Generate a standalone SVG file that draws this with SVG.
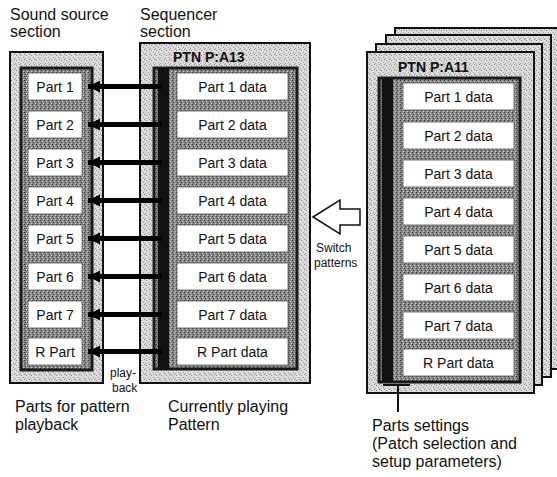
<svg xmlns="http://www.w3.org/2000/svg" width="557" height="477" viewBox="0 0 557 477">
<defs>
<pattern id="lt" width="5" height="5" patternUnits="userSpaceOnUse">
<rect width="5" height="5" fill="#dcdcdc"/>
<rect x="1" y="0" width="1" height="1" fill="#8a8a8a"/>
<rect x="3" y="2" width="1" height="1" fill="#9a9a9a"/>
<rect x="0" y="3" width="1" height="1" fill="#a5a5a5"/>
<rect x="4" y="4" width="1" height="1" fill="#8a8a8a"/>
</pattern>
<pattern id="dk" width="4" height="4" patternUnits="userSpaceOnUse">
<rect width="4" height="4" fill="#888"/>
<rect x="0" y="0" width="1" height="1" fill="#333"/>
<rect x="2" y="1" width="1" height="1" fill="#d0d0d0"/>
<rect x="1" y="2" width="1" height="1" fill="#3a3a3a"/>
<rect x="3" y="3" width="1" height="1" fill="#c8c8c8"/>
</pattern>
<marker id="ah" markerUnits="userSpaceOnUse" markerWidth="14" markerHeight="14" refX="12" refY="7" orient="auto">
<path d="M0,1 L12,7 L0,13 Z" fill="#000"/>
</marker>
</defs>
<style>
.outer{fill:url(#lt);stroke:#111;stroke-width:2}
.inner{fill:url(#dk);stroke:#1a1a1a;stroke-width:3}
.box{fill:#fff;stroke:#555;stroke-width:0.8}
.bar{fill:#111}
.t{font-family:"Liberation Sans",Arial,sans-serif;fill:#111}
.lbl{font-size:16px}
.bx{font-size:14px;text-anchor:middle}
.ptn{font-size:14px;font-weight:bold}
.sm{font-size:12px}
.conn{stroke:#000;stroke-width:5;fill:none}
</style>

<!-- headings -->
<text class="t lbl" x="10" y="20">Sound source</text>
<text class="t lbl" x="10" y="37">section</text>
<text class="t lbl" x="140" y="20">Sequencer</text>
<text class="t lbl" x="140" y="37">section</text>

<!-- Sound source section -->
<g id="sound-source">
<rect class="outer" x="10" y="52" width="93" height="331"/>
<rect class="inner" x="21" y="68" width="71" height="302"/>
<g id="part1"><rect class="box" x="28" y="73" width="54" height="27"/><text class="t bx" x="55" y="91.5">Part 1</text></g>
<g id="part2"><rect class="box" x="28" y="111" width="54" height="27"/><text class="t bx" x="55" y="129.5">Part 2</text></g>
<g id="part3"><rect class="box" x="28" y="149" width="54" height="27"/><text class="t bx" x="55" y="167.5">Part 3</text></g>
<g id="part4"><rect class="box" x="28" y="187" width="54" height="27"/><text class="t bx" x="55" y="205.5">Part 4</text></g>
<g id="part5"><rect class="box" x="28" y="225" width="54" height="27"/><text class="t bx" x="55" y="243.5">Part 5</text></g>
<g id="part6"><rect class="box" x="28" y="263" width="54" height="27"/><text class="t bx" x="55" y="281.5">Part 6</text></g>
<g id="part7"><rect class="box" x="28" y="301" width="54" height="27"/><text class="t bx" x="55" y="319.5">Part 7</text></g>
<g id="rpart"><rect class="box" x="28" y="338" width="54" height="27"/><text class="t bx" x="55" y="356.5">R Part</text></g>
</g>

<!-- Sequencer section -->
<g id="sequencer">
<rect class="outer" x="140" y="43" width="170" height="340"/>
<text class="t ptn" x="173" y="62">PTN P:A13</text>
<rect class="inner" x="154" y="68" width="143" height="301"/>
<rect class="bar" x="158" y="68" width="11" height="301"/>
<g id="d1"><rect class="box" x="177" y="73" width="111" height="27"/><text class="t bx" x="232.5" y="91.5">Part 1 data</text></g>
<g id="d2"><rect class="box" x="177" y="111" width="111" height="27"/><text class="t bx" x="232.5" y="129.5">Part 2 data</text></g>
<g id="d3"><rect class="box" x="177" y="149" width="111" height="27"/><text class="t bx" x="232.5" y="167.5">Part 3 data</text></g>
<g id="d4"><rect class="box" x="177" y="187" width="111" height="27"/><text class="t bx" x="232.5" y="205.5">Part 4 data</text></g>
<g id="d5"><rect class="box" x="177" y="225" width="111" height="27"/><text class="t bx" x="232.5" y="243.5">Part 5 data</text></g>
<g id="d6"><rect class="box" x="177" y="263" width="111" height="27"/><text class="t bx" x="232.5" y="281.5">Part 6 data</text></g>
<g id="d7"><rect class="box" x="177" y="301" width="111" height="27"/><text class="t bx" x="232.5" y="319.5">Part 7 data</text></g>
<g id="dr"><rect class="box" x="177" y="338" width="111" height="27"/><text class="t bx" x="232.5" y="356.5">R Part data</text></g>
</g>

<!-- stacked patterns -->
<g id="pattern-stack">
<rect class="outer" x="395" y="28" width="168" height="341"/>
<rect class="outer" x="386" y="35" width="165" height="342"/>
<rect class="outer" x="376" y="44" width="166" height="341"/>
</g>
<g id="pattern-a11">
<rect class="outer" x="367" y="52" width="167" height="341"/>
<text class="t ptn" x="398" y="72">PTN P:A11</text>
<rect class="inner" x="379" y="78" width="141" height="304"/>
<rect class="bar" x="382" y="78" width="11" height="304"/>
<g id="e1"><rect class="box" x="403" y="83" width="111" height="27"/><text class="t bx" x="458.5" y="101.5">Part 1 data</text></g>
<g id="e2"><rect class="box" x="403" y="122" width="111" height="27"/><text class="t bx" x="458.5" y="140.5">Part 2 data</text></g>
<g id="e3"><rect class="box" x="403" y="160" width="111" height="27"/><text class="t bx" x="458.5" y="178.5">Part 3 data</text></g>
<g id="e4"><rect class="box" x="403" y="198" width="111" height="27"/><text class="t bx" x="458.5" y="216.5">Part 4 data</text></g>
<g id="e5"><rect class="box" x="403" y="236" width="111" height="27"/><text class="t bx" x="458.5" y="254.5">Part 5 data</text></g>
<g id="e6"><rect class="box" x="403" y="274" width="111" height="27"/><text class="t bx" x="458.5" y="292.5">Part 6 data</text></g>
<g id="e7"><rect class="box" x="403" y="312" width="111" height="27"/><text class="t bx" x="458.5" y="330.5">Part 7 data</text></g>
<g id="er"><rect class="box" x="403" y="349" width="111" height="27"/><text class="t bx" x="458.5" y="367.5">R Part data</text></g>
</g>

<!-- connectors -->
<g id="connectors">
<line class="conn" x1="162" y1="86.5" x2="88" y2="86.5" marker-end="url(#ah)"/>
<line class="conn" x1="162" y1="124.5" x2="88" y2="124.5" marker-end="url(#ah)"/>
<line class="conn" x1="162" y1="162.5" x2="88" y2="162.5" marker-end="url(#ah)"/>
<line class="conn" x1="162" y1="200.5" x2="88" y2="200.5" marker-end="url(#ah)"/>
<line class="conn" x1="162" y1="238.5" x2="88" y2="238.5" marker-end="url(#ah)"/>
<line class="conn" x1="162" y1="276.5" x2="88" y2="276.5" marker-end="url(#ah)"/>
<line class="conn" x1="162" y1="314.5" x2="88" y2="314.5" marker-end="url(#ah)"/>
<line class="conn" x1="162" y1="351.5" x2="88" y2="351.5" marker-end="url(#ah)"/>
<path d="M313,217 L340,200 L340,209 L360,209 L360,225 L340,225 L340,234 Z" fill="#fff" stroke="#111" stroke-width="1.5"/>
<path d="M383,385 L410,385 M398,385 L398,412" stroke="#111" stroke-width="2" fill="none"/>
</g>

<!-- labels -->
<text class="t sm" x="110" y="377">play-</text>
<text class="t sm" x="112" y="392">back</text>
<text class="t sm" x="316" y="252">Switch</text>
<text class="t sm" x="314" y="267">patterns</text>
<text class="t lbl" x="15" y="412">Parts for pattern</text>
<text class="t lbl" x="15" y="430">playback</text>
<text class="t lbl" x="168" y="412">Currently playing</text>
<text class="t lbl" x="168" y="430">Pattern</text>
<text class="t lbl" x="372" y="431">Parts settings</text>
<text class="t lbl" x="372" y="449">(Patch selection and</text>
<text class="t lbl" x="372" y="467">setup parameters)</text>
</svg>
